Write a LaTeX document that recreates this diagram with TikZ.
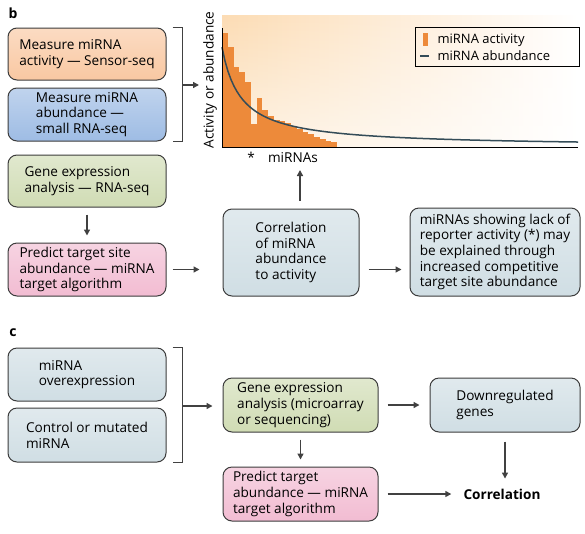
\documentclass[tikz,border=0pt]{standalone}
\usepackage{fontspec}
\setmainfont{Open Sans}
\usetikzlibrary{arrows.meta}
\usetikzlibrary{fadings}
\usetikzlibrary{calc}

\definecolor{boxline}{RGB}{60,60,60}
\definecolor{arrowgray}{RGB}{65,65,65}
\definecolor{peach}{RGB}{249,200,162}
\definecolor{skyblue}{RGB}{158,188,228}
\definecolor{sage}{RGB}{208,220,180}
\definecolor{rose}{RGB}{242,188,210}
\definecolor{mist}{RGB}{208,222,228}
\definecolor{barorange}{RGB}{237,138,58}
\definecolor{chartbg}{RGB}{252,220,180}
\definecolor{curveslate}{RGB}{52,76,88}

\begin{document}
\begin{tikzpicture}[x=1pt,y=-1pt,
    box/.style={draw=boxline,line width=1pt,rounded corners=9pt,align=left,inner sep=4pt,
        font=\fontsize{13.6}{15.7}\selectfont},
    fillbox/.style={top color=#1!65!white,bottom color=#1},
    arr/.style={draw=arrowgray,line width=1.4pt,-{Triangle[length=6pt,width=6pt]}},
    gap/.style={shorten <=7pt,shorten >=7pt},
    brk/.style={draw=arrowgray,line width=1.4pt},
    txt/.style={font=\fontsize{13.6}{15.7}\selectfont}]
            \useasboundingbox (0,0) rectangle (585,533);

            \node[font=\bfseries\fontsize{14}{16}\selectfont] (lb) at (13,13) {b};
            \node[font=\bfseries\fontsize{14}{16}\selectfont] (lc) at (13,333) {c};

            \node[box,fillbox=peach,minimum width=158pt,minimum height=52pt] (meas) at (87,54) {Measure miRNA\\activity — Sensor-seq};
            \node[box,fillbox=skyblue,minimum width=158pt,minimum height=53pt] (abund) at (87,114.5) {Measure miRNA\\abundance —\\small RNA-seq};
            \node[box,fillbox=sage,minimum width=158pt,minimum height=52pt] (gene) at (87,181) {Gene expression\\analysis — RNA-seq};
            \node[box,fillbox=rose,minimum width=158pt,minimum height=53pt] (pred) at (87,269.5) {Predict target site\\abundance — miRNA\\target algorithm};
            \node[box,fillbox=mist,minimum width=136pt,minimum height=87pt] (corr) at (291,252.5) {Correlation\\of miRNA\\abundance\\to activity};
            \node[box,fillbox=mist,minimum width=170pt,minimum height=88pt] (expl) at (495,252) {miRNAs showing lack of\\reporter activity (*) may\\be explained through\\increased competitive\\target site abundance};

            \node[box,fillbox=mist,minimum width=158pt,minimum height=53pt] (over) at (87,374.5) {miRNA\\overexpression};
            \node[box,fillbox=mist,minimum width=158pt,minimum height=54pt] (ctrl) at (87,435) {Control or mutated\\miRNA};
            \node[box,fillbox=sage,minimum width=155pt,minimum height=54pt] (gene2) at (300.5,405) {Gene expression\\analysis (microarray\\or sequencing)};
            \node[box,fillbox=mist,minimum width=150pt,minimum height=54pt] (down) at (505,405) {Downregulated\\genes};
            \node[box,fillbox=rose,minimum width=155pt,minimum height=54pt] (pred2) at (300.5,494) {Predict target\\abundance — miRNA\\target algorithm};
            \node[font=\bfseries\fontsize{13.6}{15.7}\selectfont,inner sep=2pt] (correl) at (502,494) {Correlation};

            \shade[left color=chartbg,right color=white] (222,15) rectangle (578,147);
            \fill[white,path fading=north,fill opacity=0.6] (222,15) rectangle (578,147);
            \foreach \h [count=\i] in {33,47,67,72,82,124,98,110,116,120,121,123,126,129,132,134,137,139,141,142}
                \fill[barorange] ({222+(\i-1)*5.75},147) rectangle ({222+\i*5.75},\h);
            \draw[curveslate,line width=1.5pt] plot[domain=0:356,samples=120] ({222+\x},{147-1867/(\x+18.7)});
            \coordinate (ytop) at (222,28);
            \coordinate (orig) at (222,147);
            \coordinate (xend) at (578,147);
            \draw[black,line width=1pt] (ytop) -- (orig) -- (xend);
            \node[txt,rotate=90] (ylab) at (210,80) {Activity or abundance};
            \node[txt] (star) at (251,157) {*};
            \node[txt] (xlab) at (293,158) {miRNAs};

            \draw[black,line width=0.8pt] (415,27) rectangle (579,66);
            \fill[barorange] (423,33) rectangle (428,46);
            \draw[curveslate,line width=1.5pt] (420,56) -- (429,56);
            \node[txt,anchor=west,font=\fontsize{13}{15}\selectfont] (lgact) at (434,40) {miRNA activity};
            \node[txt,anchor=west,font=\fontsize{13}{15}\selectfont] (lgabu) at (434,56) {miRNA abundance};

            \draw[brk] ([xshift=6pt]meas.north east) -- ++(10,0) |- ([xshift=6pt]abund.south east);
            \coordinate (brb) at (182,85);
            \coordinate (chartin) at (199,85);
            \draw[arr] (brb) -- (chartin);

            \draw[brk] ([xshift=6pt]over.north east) -- ++(10,0) |- ([xshift=6pt]ctrl.south east);
            \coordinate (brc) at (182,406);

            \coordinate (chartup) at (300,170);
            \draw[arr,gap] (gene) -- (pred);
            \draw[arr,shorten <=6pt,shorten >=23pt] (pred.east) -- (pred.east -| corr.west);
            \draw[arr,shorten <=8pt] (corr.north -| chartup) -- (chartup);
            \draw[arr,shorten <=9pt,shorten >=8pt] (corr.east |- pred.east) -- (expl.west |- pred.east);

            \draw[arr,shorten >=10pt] (brc) -- (gene2.west |- brc);
            \draw[arr,shorten <=9pt,shorten >=10pt] (gene2) -- (down);
            \draw[arr,gap] (gene2) -- (pred2);
            \draw[arr,shorten <=9pt,shorten >=10pt] (pred2) -- (correl);
            \draw[arr,shorten <=9pt,shorten >=8pt] (down.south) -- (down.south |- correl.north);
        \end{tikzpicture}
\end{document}
